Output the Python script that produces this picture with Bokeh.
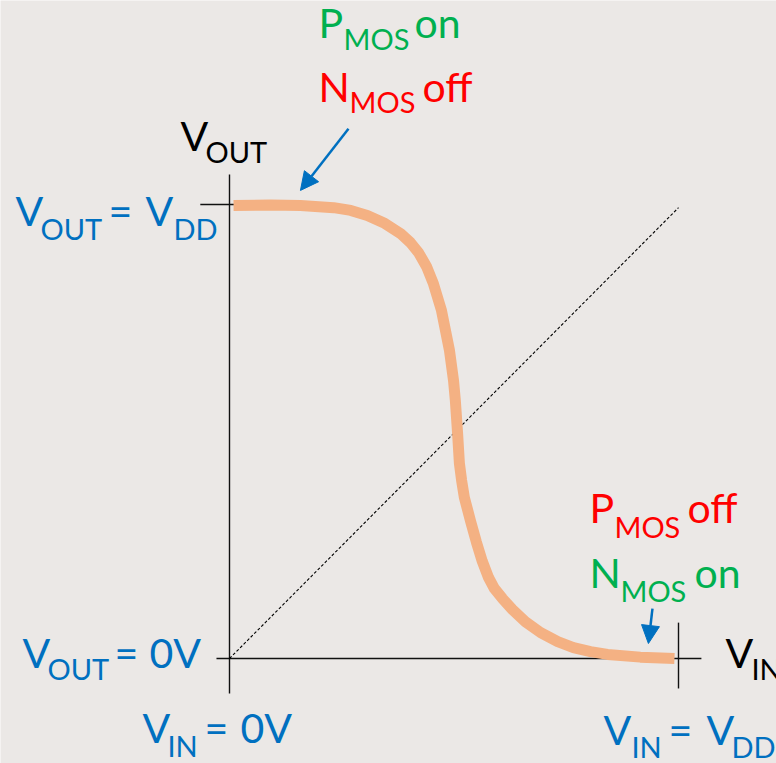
from bokeh.plotting import figure
from bokeh.models import Range1d, Arrow, NormalHead, ColumnDataSource
from bokeh.core.properties import value
from bokeh.embed import file_html
from bokeh.resources import INLINE

# CMOS inverter voltage transfer characteristic (normalised to VDD = 1)
VDD = 1.0
vin = [0.009, 0.091, 0.158, 0.232, 0.270, 0.307, 0.343, 0.381, 0.403, 0.421,
       0.439, 0.454, 0.472, 0.490, 0.499, 0.503, 0.508, 0.512, 0.517, 0.523,
       0.537, 0.550, 0.563, 0.577, 0.590, 0.608, 0.630, 0.659, 0.693, 0.731,
       0.766, 0.804, 0.842, 0.915, 0.991]
vout = [0.998, 0.999, 0.998, 0.993, 0.987, 0.976, 0.960, 0.936, 0.916, 0.894,
        0.863, 0.826, 0.767, 0.678, 0.612, 0.568, 0.496, 0.430, 0.392, 0.355,
        0.302, 0.256, 0.214, 0.178, 0.154, 0.132, 0.108, 0.081, 0.057, 0.037,
        0.024, 0.015, 0.009, 0.003, 0.000]

# unity-gain reference line Vout = Vin
diag_x = [0.0, VDD]
diag_y = [0.0, 0.993]

# annotation arrows: (tail, tip) for the "PMOS on" and "NMOS on" regions
arrow_x0 = [0.265, 0.942]
arrow_y0 = [1.167, 0.110]
arrow_x1 = [0.158, 0.933]
arrow_y1 = [1.031, 0.033]

BLUE = "#0070C0"
GREEN = "#00B050"
RED = "#FF0000"
FONT = value("Lato")
MAIN = 41
SUB = 29

# pixel scale of the drawing
PXX = 449.0
PXY = 454.0
W, H = 776, 763
ORIGIN_PX = (229, 658)

x_range = Range1d(-ORIGIN_PX[0] / PXX, (W - ORIGIN_PX[0]) / PXX)
y_range = Range1d(-(H - ORIGIN_PX[1]) / PXY, ORIGIN_PX[1] / PXY)

p = figure(width=W, height=H, x_range=x_range, y_range=y_range,
           output_backend="svg", toolbar_location=None,
           x_axis_location=None, y_axis_location=None, min_border=0,
           background_fill_color="#EBE8E6", border_fill_color="#EBE8E6")
p.grid.visible = False
p.outline_line_color = None

# hand-drawn axes and end ticks
p.segment(x0=[0, -0.029, VDD, -0.065], y0=[-0.077, 0, -0.066, VDD],
          x1=[0, 1.051, VDD, 0.085], y1=[1.066, 0, 0.079, VDD],
          line_color="#111111", line_width=1.4)

p.line(diag_x, diag_y, line_color="black", line_width=1.1, line_dash="3 2")

p.line(vin, vout, line_color="#F4B183", line_width=11, line_cap="butt",
       line_join="round")

src = ColumnDataSource(dict(x0=arrow_x0, y0=arrow_y0, x1=arrow_x1, y1=arrow_y1))
p.add_layout(Arrow(end=NormalHead(size=18, fill_color=BLUE, line_color=BLUE,
                                  line_width=1),
                   x_start="x0", y_start="y0", x_end="x1", y_end="y1",
                   source=src, line_color=BLUE, line_width=2.5))


def label(anchor, parts, color):
    """Place text runs (main size or subscript) at pixel offsets from a data anchor.

    dy is the wanted baseline offset in screen pixels (down positive); the
    renderer sets alphabetic text a little low, so it is lifted by a share of
    the font size.
    """
    ax, ay = anchor
    for txt, dx, dy, size in parts:
        dy_eff = dy - 0.43 * size
        p.text(x=[ax + dx / PXX], y=[ay - dy_eff / PXY], text=[txt],
               text_font=FONT, text_font_size=f"{size}px", text_color=color,
               text_baseline="alphabetic", text_align="left")


top_left = (0.0, VDD)
origin = (0.0, 0.0)
right_end = (VDD, 0.0)
tail_hi = (arrow_x0[0], arrow_y0[0])
tail_lo = (arrow_x0[1], arrow_y0[1])

label(top_left, [("V", -214, 24, MAIN), ("OUT", -189, 36, SUB),
                 ("=", -121, 24, MAIN), ("V", -84, 24, MAIN),
                 ("DD", -56, 36, SUB)], BLUE)
label(origin, [("V", -207, 12, MAIN), ("OUT", -182, 22, SUB),
               ("=", -115, 12, MAIN), ("0V", -80, 12, MAIN)], BLUE)
label(origin, [("V", -87, 87, MAIN), ("IN", -62, 99, SUB),
               ("=", -25, 87, MAIN), ("0V", 11, 87, MAIN)], BLUE)
label(right_end, [("V", -75, 89, MAIN), ("IN", -47, 100, SUB),
                  ("=", -10, 89, MAIN), ("V", 28, 89, MAIN),
                  ("DD", 53, 100, SUB)], BLUE)

label(top_left, [("V", -49, -51, MAIN), ("OUT", -24, -41, SUB)], "black")
label(right_end, [("V", 47, 12, MAIN), ("IN", 73, 22, SUB)], "black")

label(tail_hi, [("P", -30, -89, MAIN), ("MOS", -5, -78, SUB),
                ("on", 66, -89, MAIN)], GREEN)
label(tail_hi, [("N", -30, -25, MAIN), ("MOS", 1, -15, SUB),
                ("off", 74, -25, MAIN)], RED)
label(tail_lo, [("P", -63, -83, MAIN), ("MOS", -38, -70, SUB),
                ("off", 35, -83, MAIN)], RED)
label(tail_lo, [("N", -63, -18, MAIN), ("MOS", -32, -6, SUB),
                ("on", 42, -18, MAIN)], GREEN)

open("out.html", "w").write(file_html(p, INLINE))
